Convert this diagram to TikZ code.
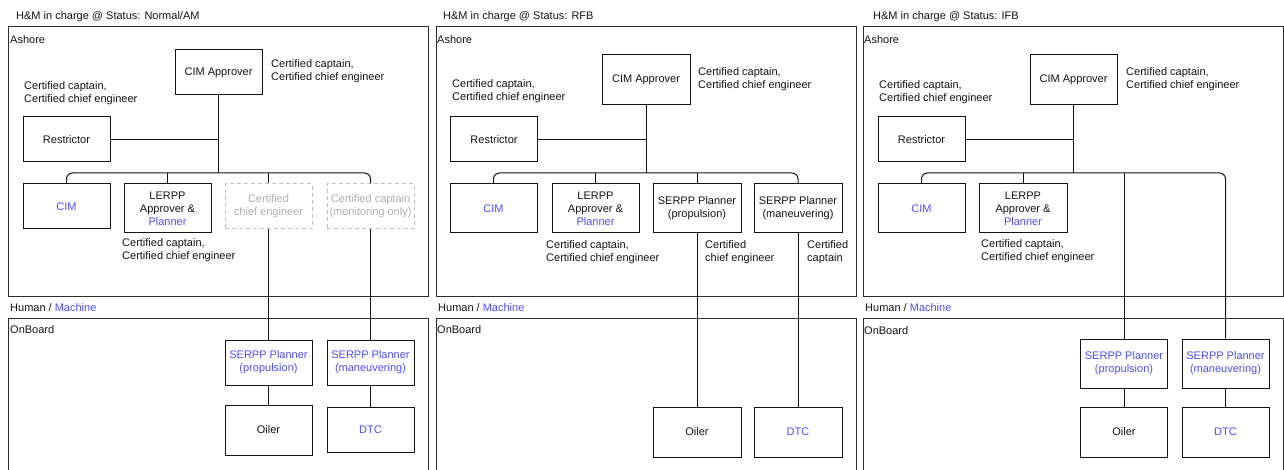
\documentclass[tikz,border=0pt]{standalone}
\usepackage{fontspec}
\setmainfont{Liberation Sans}
\definecolor{machine}{RGB}{77,77,255}
\definecolor{inactive}{RGB}{190,190,190}
\definecolor{inactivetext}{RGB}{175,175,175}
\definecolor{ink}{RGB}{20,20,20}
\begin{document}
\begin{tikzpicture}[x=1pt,y=-1pt,
  every node/.style={font=\fontsize{11}{13.2}\selectfont, inner sep=0pt, text=ink},
  unit/.style={draw=ink, line width=1pt, minimum width=87pt, minimum height=45pt, align=center},
  tall/.style={minimum height=49pt},
  taller/.style={minimum height=50pt},
  ghost/.style={unit, draw=inactive, text=inactivetext, dash pattern=on 4pt off 3pt},
  note/.style={anchor=west, align=left},
  frame/.style={draw=ink!90, line width=1pt},
  link/.style={draw=ink, line width=1pt},
  bus/.style={link, rounded corners=6pt}]

\useasboundingbox (0,0) rectangle (1284,470);
\fill[white] (0,0) rectangle (1284,470);
\clip (0,0) rectangle (1284,470);

% ---------------- Status: Normal/AM ----------------
\node[note] (title1) at (16,17) {H\&M in charge @ Status: Normal/AM};
\draw[frame] (8,27) rectangle (428,296);
\draw[frame] (8,318) rectangle (428,490);
\node[note] (ashore1) at (10,40) {Ashore};
\node[note] (hm1) at (10,308) {Human / \textcolor{machine}{Machine}};
\node[note] (onboard1) at (10,330) {OnBoard};

\node[unit] (cimA1) at (218.5,72.5) {CIM Approver};
\node[note] (cimAnote1) at (271,71.5) {Certified captain,\\Certified chief engineer};
\node[note] (restrnote1) at (24,93.5) {Certified captain,\\Certified chief engineer};
\node[unit] (restr1) at (66.5,139.5) {Restrictor};
\node[unit] (cim1) at (66.5,206.5) {\textcolor{machine}{CIM}};
\node[unit, tall] (lerpp1) at (167.5,208.5) {LERPP\\Approver \&\\\textcolor{machine}{Planner}};
\node[ghost] (dce1) at (268.5,206.5) {Certified\\chief engineer};
\node[ghost] (dcc1) at (370.5,206.5) {Certified captain\\(monitoring only)};
\node[note] (lerppnote1) at (122,250.5) {Certified captain,\\Certified chief engineer};

\node[unit] (serppP1) at (268.5,362.5) {\textcolor{machine}{SERPP Planner}\\\textcolor{machine}{(propulsion)}};
\node[unit] (serppM1) at (370.5,362.5) {\textcolor{machine}{SERPP Planner}\\\textcolor{machine}{(maneuvering)}};
\node[unit, taller] (oiler1) at (268.5,430) {Oiler};
\node[unit] (dtc1) at (370.5,429.5) {\textcolor{machine}{DTC}};

\coordinate (j1) at (cimA1.south |- 0,173);
\draw[link] (cimA1.south) -- (j1);
\draw[link] (restr1.east) -- (restr1.east -| j1);
\draw[bus] (cim1.north) |- (j1) -| (dcc1.north);
\draw[link] (lerpp1.north) -- (lerpp1.north |- j1);
\draw[link] (dce1.north) -- (dce1.north |- j1);
\draw[link] (dce1.south) -- (serppP1.north);
\draw[link] (dcc1.south) -- (serppM1.north);
\draw[link] (serppP1.south) -- (oiler1.north);
\draw[link] (serppM1.south) -- (dtc1.north);

% ---------------- Status: RFB ----------------
\node[note] (title2) at (443,17) {H\&M in charge @ Status: RFB};
\draw[frame] (436,27) rectangle (856,296);
\draw[frame] (436,318) rectangle (856,490);
\node[note] (ashore2) at (437,40) {Ashore};
\node[note] (hm2) at (438,308) {Human / \textcolor{machine}{Machine}};
\node[note] (onboard2) at (437,330) {OnBoard};

\node[unit, minimum width=88pt, taller] (cimA2) at (646,80) {CIM Approver};
\node[note] (cimAnote2) at (698,79.5) {Certified captain,\\Certified chief engineer};
\node[note] (restrnote2) at (452,91.5) {Certified captain,\\Certified chief engineer};
\node[unit] (restr2) at (494,139.5) {Restrictor};
\node[unit, tall] (cim2) at (493.5,208.5) {\textcolor{machine}{CIM}};
\node[unit, tall] (lerpp2) at (595.5,208.5) {LERPP\\Approver \&\\\textcolor{machine}{Planner}};
\node[unit, minimum width=88pt, tall] (serppP2) at (697,208.5) {SERPP Planner\\(propulsion)};
\node[unit, minimum width=88pt, tall] (serppM2) at (798,208.5) {SERPP Planner\\(maneuvering)};
\node[note] (lerppnote2) at (546,252.5) {Certified captain,\\Certified chief engineer};
\node[note] (serppPnote2) at (705,252.5) {Certified\\chief engineer};
\node[note] (serppMnote2) at (807,252.5) {Certified\\captain};

\node[unit, minimum width=88pt, taller] (oiler2) at (697,432) {Oiler};
\node[unit, minimum width=88pt, taller] (dtc2) at (798,432) {\textcolor{machine}{DTC}};

\coordinate (j2) at (cimA2.south |- 0,173);
\draw[link] (cimA2.south) -- (j2);
\draw[link] (restr2.east) -- (restr2.east -| j2);
\draw[bus] (cim2.north) |- (j2) -| (serppM2.north);
\draw[link] (lerpp2.north) -- (lerpp2.north |- j2);
\draw[link] (serppP2.north) -- (serppP2.north |- j2);
\draw[link] (serppP2.south) -- (oiler2.north);
\draw[link] (serppM2.south) -- (dtc2.north);

% ---------------- Status: IFB ----------------
\node[note] (title3) at (873,17) {H\&M in charge @ Status: IFB};
\draw[frame] (863,27) rectangle (1283,296);
\draw[frame] (863,318) rectangle (1283,490);
\node[note] (ashore3) at (864,40) {Ashore};
\node[note] (hm3) at (865,308) {Human / \textcolor{machine}{Machine}};
\node[note] (onboard3) at (864,331) {OnBoard};

\node[unit, taller] (cimA3) at (1073.5,80) {CIM Approver};
\node[note] (cimAnote3) at (1126,79.5) {Certified captain,\\Certified chief engineer};
\node[note] (restrnote3) at (879,92.5) {Certified captain,\\Certified chief engineer};
\node[unit] (restr3) at (921.5,139.5) {Restrictor};
\node[unit, tall] (cim3) at (921.5,208.5) {\textcolor{machine}{CIM}};
\node[unit, minimum width=88pt, tall] (lerpp3) at (1023,208.5) {LERPP\\Approver \&\\\textcolor{machine}{Planner}};
\node[note] (lerppnote3) at (981,251.5) {Certified captain,\\Certified chief engineer};

\node[unit, tall] (serppP3) at (1124,363.5) {\textcolor{machine}{SERPP Planner}\\\textcolor{machine}{(propulsion)}};
\node[unit, tall] (serppM3) at (1225.5,363.5) {\textcolor{machine}{SERPP Planner}\\\textcolor{machine}{(maneuvering)}};
\node[unit, taller] (oiler3) at (1124,432) {Oiler};
\node[unit, taller] (dtc3) at (1225.5,432) {\textcolor{machine}{DTC}};

\coordinate (j3) at (cimA3.south |- 0,173);
\draw[link] (cimA3.south) -- (j3);
\draw[link] (restr3.east) -- (restr3.east -| j3);
\draw[bus] (cim3.north) |- (j3) -| (serppM3.north);
\draw[link] (lerpp3.north) -- (lerpp3.north |- j3);
\draw[link] (serppP3.north |- j3) -- (serppP3.north);
\draw[link] (serppP3.south) -- (oiler3.north);
\draw[link] (serppM3.south) -- (dtc3.north);
\end{tikzpicture}
\end{document}
